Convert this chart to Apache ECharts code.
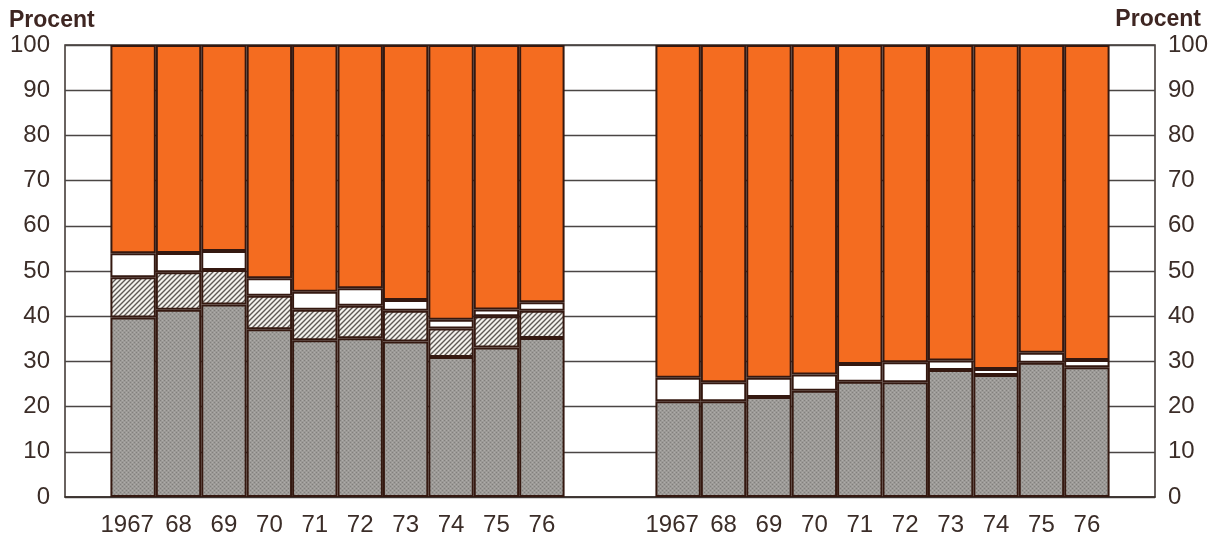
<!DOCTYPE html>
<html>
<head>
<meta charset="utf-8">
<script src="https://cdn.jsdelivr.net/npm/echarts@6/dist/echarts.min.js"></script>
<style>
html,body{margin:0;padding:0;background:#fff;}
#chart{width:1211px;height:534px;}
</style>
</head>
<body>
<div id="chart"></div>
<script>
// Year labels for each group
var years = ['1967','68','69','70','71','72','73','74','75','76'];
// Left group (percent shares, bottom to top)
var leftGray    = [39.7, 41.4, 42.6, 37.1, 34.7, 35.1, 34.4, 31.0, 33.1, 35.2];
var leftHatched = [ 8.9,  8.3,  7.6,  7.4,  6.7,  7.2,  6.8,  6.3,  6.9,  6.0];
var leftWhite   = [ 5.3,  4.3,  4.2,  3.9,  4.0,  3.9,  2.4,  1.9,  1.5,  1.9];
var leftOrange  = [46.1, 46.0, 45.6, 51.6, 54.6, 53.8, 56.4, 60.8, 58.5, 56.9];
// Right group (percent shares, bottom to top)
var rightGray   = [21.2, 21.2, 22.1, 23.5, 25.5, 25.4, 28.1, 27.0, 29.7, 28.7];
var rightWhite  = [ 5.2,  4.2,  4.3,  3.6,  3.9,  4.4,  2.1,  1.3,  2.2,  1.6];
var rightOrange = [73.6, 74.6, 73.6, 72.9, 70.6, 70.2, 69.8, 71.7, 68.1, 69.7];
// Value axis ticks
var yTicks = [0,10,20,30,40,50,60,70,80,90,100];

// Build 24 slots: 1 empty, 10 left, 2 empty, 10 right, 1 empty
var slotLabels = [''].concat(years, ['',''], years, ['']);
var categories = slotLabels.map(function(l, i){ return i + '|' + l; });
function place(leftArr, rightArr){
  var out = [null];
  for (var i=0;i<10;i++) out.push(leftArr ? leftArr[i] : null);
  out.push(null, null);
  for (var j=0;j<10;j++) out.push(rightArr ? rightArr[j] : null);
  out.push(null);
  return out;
}

function makeHatch(){
  var c = document.createElement('canvas');
  var s = 5; c.width = s; c.height = s;
  var g = c.getContext('2d');
  g.fillStyle = '#f3f1ec'; g.fillRect(0,0,s,s);
  g.strokeStyle = '#5e5854'; g.lineWidth = 1.4;
  g.beginPath();
  g.moveTo(-1, s+1); g.lineTo(s+1, -1);
  g.moveTo(-1, 1); g.lineTo(1, -1);
  g.moveTo(s-1, s+1); g.lineTo(s+1, s-1);
  g.stroke();
  return c;
}
function makeDots(){
  var c = document.createElement('canvas');
  c.width = 4; c.height = 4;
  var g = c.getContext('2d');
  g.fillStyle = '#9c9a97'; g.fillRect(0,0,4,4);
  g.fillStyle = '#82807d';
  g.fillRect(0,0,1,1); g.fillRect(2,2,1,1);
  g.fillStyle = '#aeaca9';
  g.fillRect(2,0,1,1); g.fillRect(0,2,1,1);
  return c;
}

var border = '#341810';
var labelColor = '#3b2d28';
var fontFam = '"Liberation Sans", Arial, sans-serif';

function barSeries(name, data, color){
  return {
    name: name, type: 'bar', stack: 'all', data: data,
    barWidth: '100%', barGap: '0%', barCategoryGap: '0%',
    itemStyle: { color: color, borderColor: border, borderWidth: 2 },
    emphasis: { disabled: true },
    silent: true
  };
}

var chart = echarts.init(document.getElementById('chart'), null, {renderer:'canvas'});
chart.setOption({
  animation: false,
  backgroundColor: '#ffffff',
  grid: { left: 65, right: 56, top: 45, bottom: 37, show: true, borderColor: '#3a302c', borderWidth: 1.5, backgroundColor: 'transparent', outerBoundsMode: 'none', containLabel: false },
  xAxis: {
    type: 'category', data: categories,
    axisLine: { show: true, lineStyle: { color: '#3a302c', width: 1.5 } },
    axisTick: { show: false },
    axisLabel: {
      interval: 0, margin: 16, color: labelColor, fontSize: 24, fontFamily: fontFam,
      formatter: function(v){
        var t = v.split('|')[1];
        return t.length === 4 ? '{f|' + t + '}' : t;
      },
      rich: { f: { color: labelColor, fontSize: 24, fontFamily: fontFam, padding: [0, 12, 0, 0] } }
    },
    splitLine: { show: false }
  },
  yAxis: [
    {
      type: 'value', min: 0, max: 100, interval: 10, position: 'left',
      axisLine: { show: false }, axisTick: { show: false },
      axisLabel: { margin: 15, color: labelColor, fontSize: 24, fontFamily: fontFam },
      splitLine: { show: true, lineStyle: { color: '#4a4644', width: 1.3 } }
    },
    {
      type: 'value', min: 0, max: 100, interval: 10, position: 'right',
      axisLine: { show: false }, axisTick: { show: false },
      axisLabel: { margin: 13, color: labelColor, fontSize: 24, fontFamily: fontFam },
      splitLine: { show: false }
    }
  ],
  series: [
    barSeries('gray', place(leftGray, rightGray), { image: makeDots(), repeat: 'repeat' }),
    barSeries('hatched', place(leftHatched, null), { image: makeHatch(), repeat: 'repeat' }),
    barSeries('white', place(leftWhite, rightWhite), '#ffffff'),
    barSeries('orange', place(leftOrange, rightOrange), '#f46c20')
  ],
  graphic: [
    { type: 'text', left: 9, top: 9, style: { text: 'Procent', fill: '#3e2622', font: 'bold 23px ' + fontFam } },
    { type: 'text', right: 10, top: 8, style: { text: 'Procent', fill: '#3e2622', font: 'bold 23px ' + fontFam } }
  ]
});
</script>
</body>
</html>
